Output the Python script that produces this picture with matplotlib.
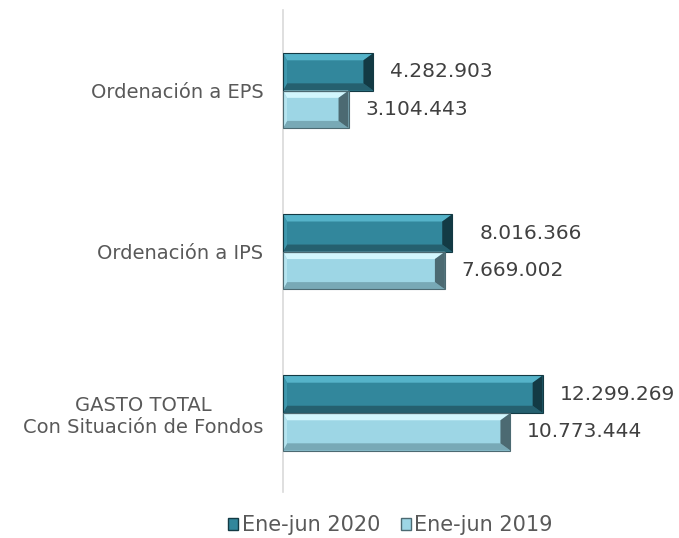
import numpy as np
import matplotlib.pyplot as plt
from matplotlib.patches import Polygon

categories = ['GASTO TOTAL\nCon Situación de Fondos', 'Ordenación a IPS', 'Ordenación a EPS']
ene_jun_2020 = [12299269, 8016366, 4282903]
ene_jun_2019 = [10773444, 7669002, 3104443]
series_names = ['Ene-jun 2020', 'Ene-jun 2019']

# colores de caras: frente, arriba, abajo, derecha, izquierda
col_2020 = ['#32879c', '#55b3c9', '#25606f', '#133a44', '#3f98ad']
col_2019 = ['#9dd6e5', '#d2f6fd', '#78a9b6', '#4c6a72', '#b5e4ef']


def fmt(v):
    return f'{v:,}'.replace(',', '.')


def bevel_bar(ax, y, w, h, cols, dx, dy):
    # barra base
    ax.barh(y, w, height=h, color=cols[0], edgecolor='none', zorder=2)
    y0, y1 = y - h / 2, y + h / 2
    faces = [
        ([(0, y1), (w, y1), (w - dx, y1 - dy), (dx * 0.4, y1 - dy)], cols[1]),
        ([(0, y0), (w, y0), (w - dx, y0 + dy), (dx * 0.4, y0 + dy)], cols[2]),
        ([(w, y0), (w, y1), (w - dx, y1 - dy), (w - dx, y0 + dy)], cols[3]),
        ([(0, y0), (0, y1), (dx * 0.4, y1 - dy), (dx * 0.4, y0 + dy)], cols[4]),
    ]
    for pts, c in faces:
        ax.add_patch(Polygon(pts, closed=True, facecolor=c, edgecolor='none', zorder=3))
    ax.add_patch(Polygon([(0, y0), (w, y0), (w, y1), (0, y1)], closed=True,
                         facecolor='none', edgecolor=cols[3], lw=0.8, zorder=4))


fig = plt.figure(figsize=(6.79, 5.38), dpi=100)
ax = fig.add_axes([283 / 679, 46 / 538, 380 / 679, 482 / 538])

y = np.arange(len(categories))
h = 0.233
xmax = 18.0e6
dx = xmax * 10 / 380
dy = 0.045

for i in range(len(categories)):
    bevel_bar(ax, y[i] + h / 2, ene_jun_2020[i], h, col_2020, dx, dy)
    bevel_bar(ax, y[i] - h / 2, ene_jun_2019[i], h, col_2019, dx, dy)
    ax.annotate(fmt(ene_jun_2020[i]), (ene_jun_2020[i], y[i] + h / 2),
                xytext=(20 if i == 1 else 12, 0), textcoords='offset points',
                va='center', ha='left', fontsize=14.5, color='#404040')
    ax.annotate(fmt(ene_jun_2019[i]), (ene_jun_2019[i], y[i] - h / 2),
                xytext=(12, 0), textcoords='offset points',
                va='center', ha='left', fontsize=14.5, color='#404040')

ax.set_xlim(0, xmax)
ax.set_ylim(-0.49, 2.5)
ax.set_yticks(y)
ax.set_yticklabels(categories, fontsize=14, color='#595959', multialignment='center')
ax.tick_params(axis='y', length=0, pad=14)
ax.set_xticks([])
for s in ['top', 'right', 'bottom']:
    ax.spines[s].set_visible(False)
ax.spines['left'].set_color('#d9d9d9')
ax.spines['left'].set_linewidth(1.2)

handles = [plt.Rectangle((0, 0), 1, 1, facecolor=col_2020[0], edgecolor=col_2020[3]),
           plt.Rectangle((0, 0), 1, 1, facecolor=col_2019[0], edgecolor=col_2019[3])]
fig.legend(handles, series_names, loc='lower center', bbox_to_anchor=(0.575, -0.03),
           ncol=2, frameon=False, fontsize=15, handlelength=0.5, handleheight=0.5,
           handletextpad=0.15, columnspacing=1.0, labelcolor='#595959')

fig.savefig('out.png', dpi=100, facecolor='white')
